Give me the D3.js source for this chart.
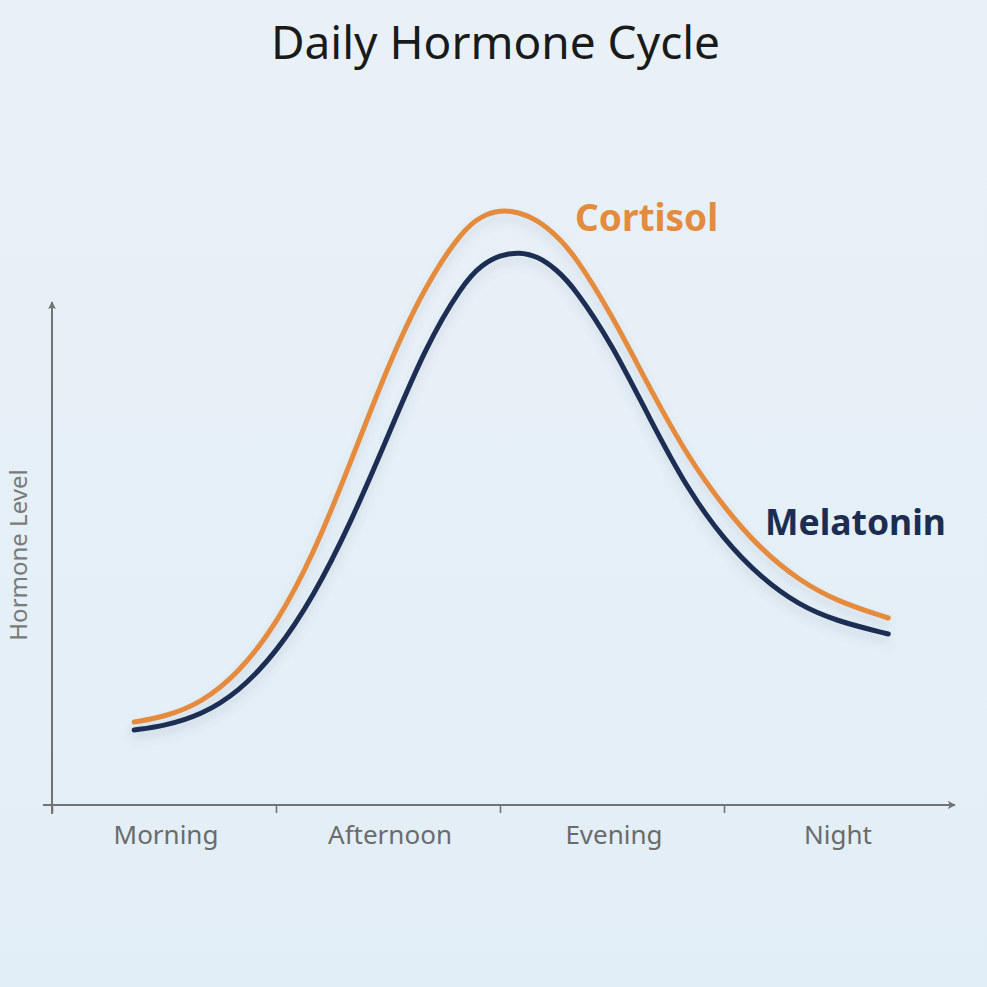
<!DOCTYPE html>
<html>
<head>
<meta charset="utf-8">
<script src="https://cdn.jsdelivr.net/npm/d3@7"></script>
<style>
  html, body { margin: 0; padding: 0; }
  body { width: 987px; height: 987px; overflow: hidden; }
  svg { display: block; font-family: "Noto Sans", "Open Sans", sans-serif; }
</style>
</head>
<body>
<div id="chart"></div>
<script>
// periods along the x axis, each 6 hours wide
const periods = ['Morning', 'Afternoon', 'Evening', 'Night'];
const periodStarts = [0, 6, 12, 18];

// hour of day / relative level
const cortisolHours = [2.2, 3, 4, 5, 6, 7, 8, 9, 10, 11, 11.5, 12, 12.5, 13, 13.5, 14, 15, 16, 17, 18, 19, 20, 21, 22.4];
const cortisolLevels = [16.6, 17.6, 20.4, 26.4, 36, 50, 68.5, 88, 104, 115, 117.8, 119, 118.6, 117, 114, 110, 98, 83.5, 70, 59.5, 51, 45, 40.8, 37.4];

const melatoninHours = [2.2, 3, 4, 5, 6, 7, 8, 9, 10, 11, 11.5, 12, 12.5, 13, 13.5, 14, 15, 16, 17, 18, 19, 20, 21, 22.4];
const melatoninLevels = [15, 15.8, 18, 22.6, 30.4, 41.6, 56.4, 73.8, 91.6, 104.2, 108, 110, 110.6, 109.8, 107.2, 103.4, 92.2, 77.4, 63.4, 53, 45.4, 40, 36.8, 34.2];

const width = 987, height = 987;
const originX = 52, originY = 805;

const svg = d3.select('#chart').append('svg')
  .attr('width', width)
  .attr('height', height);

const defs = svg.append('defs');
const bg = defs.append('linearGradient')
  .attr('id', 'bg-grad')
  .attr('x1', '0%').attr('y1', '0%')
  .attr('x2', '0%').attr('y2', '100%');
bg.append('stop').attr('offset', '0%').attr('stop-color', '#e9f1f7');
bg.append('stop').attr('offset', '100%').attr('stop-color', '#e2eef7');

const shadow = defs.append('filter')
  .attr('id', 'line-shadow')
  .attr('x', '-10%').attr('y', '-10%')
  .attr('width', '120%').attr('height', '130%');
shadow.append('feDropShadow')
  .attr('dx', 0).attr('dy', 7)
  .attr('stdDeviation', 5)
  .attr('flood-color', '#5a6a80')
  .attr('flood-opacity', 0.16);

defs.append('marker')
  .attr('id', 'arrow')
  .attr('viewBox', '0 0 10 10')
  .attr('refX', 9).attr('refY', 5)
  .attr('markerWidth', 8).attr('markerHeight', 8)
  .attr('markerUnits', 'userSpaceOnUse')
  .attr('orient', 'auto')
  .append('path')
  .attr('d', 'M0,0 L10,5 L0,10 L2.5,5 Z')
  .attr('fill', '#737373');

svg.append('rect')
  .attr('width', width).attr('height', height)
  .attr('fill', 'url(#bg-grad)');

const x = d3.scaleLinear().domain([0, 24]).range([originX, 948]);
const y = d3.scaleLinear().domain([0, 120]).range([originY, 205]);

// title
svg.append('text')
  .attr('x', width / 2 + 2)
  .attr('y', 59)
  .attr('text-anchor', 'middle')
  .attr('fill', '#1a1a1a')
  .attr('font-size', '46px')
  .text('Daily Hormone Cycle');

// x axis ticks (no labels; labels sit in the middle of each period)
const xAxis = svg.append('g')
  .attr('transform', `translate(0, ${originY})`)
  .call(d3.axisBottom(x).tickValues(periodStarts).tickSize(8).tickFormat(''));
xAxis.select('.domain').remove();
xAxis.selectAll('.tick line').attr('stroke', '#737373').attr('stroke-width', 1.6);

// axis lines with arrows
svg.append('line')
  .attr('x1', originX - 9).attr('y1', originY)
  .attr('x2', 955).attr('y2', originY)
  .attr('stroke', '#737373').attr('stroke-width', 2)
  .attr('marker-end', 'url(#arrow)');
svg.append('line')
  .attr('x1', originX).attr('y1', originY + 9)
  .attr('x2', originX).attr('y2', 302)
  .attr('stroke', '#737373').attr('stroke-width', 2)
  .attr('marker-end', 'url(#arrow)');

svg.selectAll('.period-label')
  .data(periods)
  .join('text')
  .attr('class', 'period-label')
  .attr('x', (d, i) => x(periodStarts[i] + 3) + 2)
  .attr('y', 844)
  .attr('text-anchor', 'middle')
  .attr('fill', '#6b6b6b')
  .attr('font-size', '26px')
  .text(d => d);

svg.append('text')
  .attr('transform', `translate(27, 555) rotate(-90)`)
  .attr('text-anchor', 'middle')
  .attr('fill', '#7a7a7a')
  .attr('font-size', '24px')
  .text('Hormone Level');

// basis spline smooths the hand-read points into one even curve
const line = d3.line()
  .x(d => x(d[0]))
  .y(d => y(d[1]))
  .curve(d3.curveBasis);

const series = [
  { name: 'Cortisol', hours: cortisolHours, levels: cortisolLevels, color: '#e48b3d' },
  { name: 'Melatonin', hours: melatoninHours, levels: melatoninLevels, color: '#1b2e52' }
];

series.forEach(s => {
  svg.append('path')
    .datum(d3.zip(s.hours, s.levels))
    .attr('fill', 'none')
    .attr('stroke', s.color)
    .attr('stroke-width', 5)
    .attr('stroke-linecap', 'round')
    .attr('filter', 'url(#line-shadow)')
    .attr('d', line);
});

svg.append('text')
  .attr('x', 575).attr('y', 231)
  .attr('fill', '#e48b3d')
  .attr('font-size', '37px')
  .attr('font-weight', 700)
  .text('Cortisol');

svg.append('text')
  .attr('x', 765).attr('y', 535)
  .attr('fill', '#1b2e52')
  .attr('font-size', '35.5px')
  .attr('font-weight', 700)
  .text('Melatonin');
</script>
</body>
</html>
